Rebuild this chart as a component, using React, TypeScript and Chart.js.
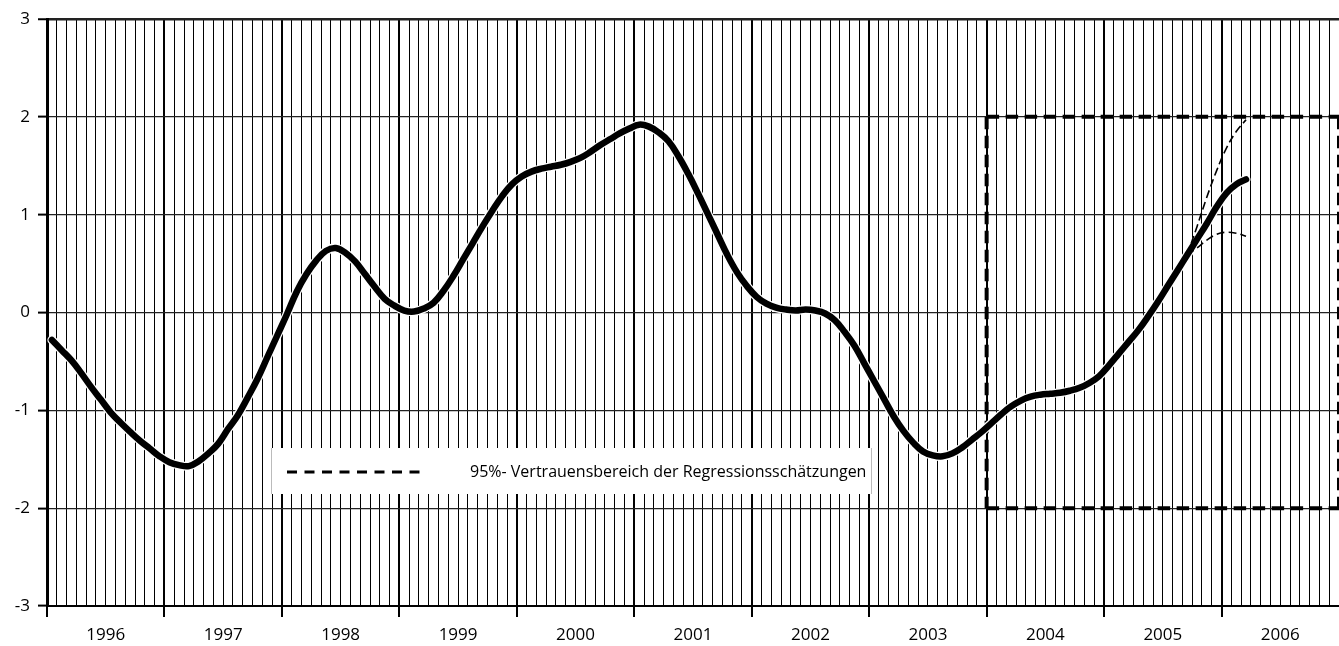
import React, { useEffect, useRef } from 'react';
import { Chart, registerables } from 'chart.js';

Chart.register(...registerables);

// ---- data ----
const YEARS = ['1996', '1997', '1998', '1999', '2000', '2001', '2002', '2003', '2004', '2005', '2006'];
const MONTHS_PER_YEAR = 12;
const MONTHS_TOTAL = YEARS.length * MONTHS_PER_YEAR; // axis runs Jan 1996 .. Dec 2006
const Y_MIN = -3;
const Y_MAX = 3;

// monthly indicator values, Jan 1996 .. Mar 2006
const INDICATOR = [
  -0.28, -0.385, -0.49, -0.62, -0.76, -0.89, -1.02, -1.125, -1.22, -1.31, -1.39, -1.47,
  -1.53, -1.56, -1.57, -1.52, -1.44, -1.34, -1.19, -1.05, -0.87, -0.68, -0.46, -0.24,
  -0.02, 0.21, 0.39, 0.53, 0.63, 0.66, 0.61, 0.52, 0.39, 0.26, 0.14, 0.07,
  0.02, 0.01, 0.04, 0.10, 0.22, 0.37, 0.54, 0.71, 0.88, 1.04, 1.19, 1.31,
  1.39, 1.44, 1.47, 1.49, 1.51, 1.54, 1.58, 1.64, 1.71, 1.77, 1.83, 1.88,
  1.92, 1.90, 1.84, 1.75, 1.60, 1.42, 1.22, 1.01, 0.80, 0.59, 0.41, 0.27,
  0.16, 0.09, 0.05, 0.03, 0.02, 0.03, 0.02, -0.01, -0.08, -0.20, -0.34, -0.52,
  -0.70, -0.88, -1.06, -1.21, -1.33, -1.42, -1.46, -1.47, -1.44, -1.38, -1.30, -1.22,
  -1.13, -1.04, -0.96, -0.90, -0.86, -0.84, -0.83, -0.82, -0.80, -0.77, -0.72, -0.65,
  -0.54, -0.42, -0.30, -0.18, -0.04, 0.11, 0.27, 0.43, 0.59, 0.75, 0.91, 1.08,
  1.22, 1.31, 1.36,
];

// 95% confidence band of the regression estimates (from month index BAND_START)
const BAND_START = 116;
const BAND_UPPER = [0.59, 0.88, 1.18, 1.45, 1.68, 1.85, 1.97];
const BAND_LOWER = [0.59, 0.66, 0.74, 0.80, 0.82, 0.81, 0.78];

// forecast window rectangle: from Jan 2004, between -2 and 2
const BOX_START_MONTH = 96;
const BOX_LOW = -2;
const BOX_HIGH = 2;

const LEGEND_LABEL = '95%- Vertrauensbereich der Regressionsschätzungen';

const FONT = '"Open Sans", "DejaVu Sans", sans-serif';

const toPoints = (vals: (number | null)[], start = 0) =>
  vals.map((v, i) => ({ x: start + i + 0.5, y: v }));

const overlayPlugin = {
  id: 'overlay',
  beforeDatasetsDraw(chart: any) {
    const { ctx, scales } = chart;
    const xs = scales.x;
    const ys = scales.y;
    ctx.save();
    // dashed forecast rectangle
    const x0 = xs.getPixelForValue(BOX_START_MONTH);
    const x1 = xs.getPixelForValue(MONTHS_TOTAL);
    const yt = ys.getPixelForValue(BOX_HIGH);
    const yb = ys.getPixelForValue(BOX_LOW);
    ctx.strokeStyle = '#000';
    ctx.lineWidth = 4;
    ctx.setLineDash([12.5, 6.5]);
    ctx.beginPath();
    ctx.moveTo(x0, yt);
    ctx.lineTo(x1, yt);
    ctx.moveTo(x0, yb);
    ctx.lineTo(x1, yb);
    ctx.moveTo(x0, yt);
    ctx.lineTo(x0, yb);
    ctx.moveTo(x1, yt);
    ctx.lineTo(x1, yb);
    ctx.stroke();

    // legend box
    const L = 271, T = 448, R = 872, B = 494;
    ctx.setLineDash([]);
    ctx.fillStyle = '#fff';
    ctx.fillRect(L, T, R - L, B - T);
    ctx.strokeStyle = '#bbb';
    ctx.lineWidth = 1;
    ctx.beginPath();
    ctx.moveTo(L + 0.5, T);
    ctx.lineTo(L + 0.5, B);
    ctx.moveTo(R - 0.5, T);
    ctx.lineTo(R - 0.5, B);
    ctx.stroke();
    const midY = (T + B) / 2 + 1;
    ctx.strokeStyle = '#000';
    ctx.lineWidth = 3;
    ctx.setLineDash([10, 7.5]);
    ctx.beginPath();
    ctx.moveTo(287, midY);
    ctx.lineTo(425, midY);
    ctx.stroke();
    ctx.setLineDash([]);
    ctx.fillStyle = '#000';
    ctx.font = `16px ${FONT}`;
    ctx.textBaseline = 'middle';
    ctx.textAlign = 'left';
    ctx.fillText(LEGEND_LABEL, 470, midY);
    ctx.restore();
  },
};

export default function App() {
  const ref = useRef<HTMLCanvasElement | null>(null);

  useEffect(() => {
    if (!ref.current) return;
    const mainPts = toPoints(INDICATOR);
    const chart = new Chart(ref.current, {
      type: 'line',
      data: {
        datasets: [
          {
            label: 'upper',
            data: toPoints(BAND_UPPER, BAND_START),
            borderColor: '#000',
            borderWidth: 1.6,
            borderDash: [8, 4],
            pointRadius: 0,
            tension: 0.4,
            order: 1,
          },
          {
            label: 'lower',
            data: toPoints(BAND_LOWER, BAND_START),
            borderColor: '#000',
            borderWidth: 1.6,
            borderDash: [8, 4],
            pointRadius: 0,
            tension: 0.4,
            order: 1,
          },
          {
            label: 'indicator',
            data: mainPts,
            borderColor: '#000',
            borderWidth: 6.5,
            borderCapStyle: 'round',
            pointRadius: 0,
            tension: 0.4,
            order: 2,
          },
          {
            label: 'halo',
            data: mainPts,
            borderColor: '#fff',
            borderWidth: 9,
            borderCapStyle: 'round',
            pointRadius: 0,
            tension: 0.4,
            order: 3,
          },
        ],
      },
      options: {
        animation: false,
        responsive: false,
        maintainAspectRatio: false,
        layout: { padding: { top: 19, right: 0, left: 0, bottom: 0 } },
        plugins: {
          legend: { display: false },
          tooltip: { enabled: false },
        },
        scales: {
          x: {
            type: 'linear',
            min: 0,
            max: MONTHS_TOTAL,
            afterFit: (s: any) => {
              s.height = 40;
              s.paddingLeft = 0;
              s.paddingRight = 0;
            },
            border: { display: true, color: '#000', width: 2 },
            grid: {
              color: (c: any) => {
                const v = c.tick?.value;
                if (v === 0 || v === MONTHS_TOTAL) return 'rgba(0,0,0,0)';
                return '#000';
              },
              lineWidth: (c: any) => (c.tick?.value % MONTHS_PER_YEAR === 0 ? 2 : 1),
              tickColor: (c: any) =>
                c.tick?.value % MONTHS_PER_YEAR === 0 && c.tick?.value !== MONTHS_TOTAL ? '#000' : 'rgba(0,0,0,0)',
              tickWidth: 2,
              tickLength: 11,
            },
            ticks: {
              stepSize: 1,
              autoSkip: false,
              maxRotation: 0,
              minRotation: 0,
              padding: 8,
              color: '#000',
              font: { family: FONT, size: 17 },
              callback: (value: any) => {
                const v = Number(value);
                return v % MONTHS_PER_YEAR === 6 ? YEARS[(v - 6) / MONTHS_PER_YEAR] : '';
              },
            },
          },
          y: {
            min: Y_MIN,
            max: Y_MAX,
            afterFit: (s: any) => {
              s.width = 47;
            },
            border: { display: true, color: '#000', width: 3 },
            grid: {
              color: '#222',
              lineWidth: (c: any) => (c.tick?.value === Y_MAX ? 2.5 : 1.2),
              tickColor: '#000',
              tickWidth: 2,
              tickLength: 9,
            },
            ticks: {
              stepSize: 1,
              padding: 8,
              color: '#000',
              font: { family: FONT, size: 17 },
            },
          },
        },
      },
      plugins: [overlayPlugin],
    });
    return () => chart.destroy();
  }, []);

  return (
    <div style={{ position: 'absolute', left: 0, top: 0, width: 1339, height: 646, background: '#fff' }}>
      <canvas ref={ref} width={1339} height={646} />
    </div>
  );
}
